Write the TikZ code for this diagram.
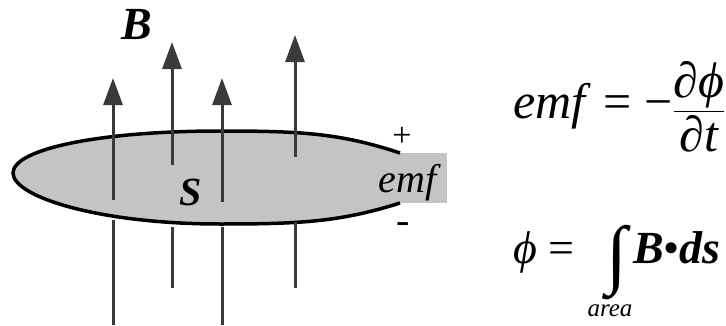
\documentclass[tikz,border=0pt]{standalone}
\usepackage{amsmath}
\usepackage{fontspec}
\setmainfont{Liberation Serif}
\usepackage{tikz}
\usetikzlibrary{arrows.meta}

\definecolor{loopgray}{RGB}{196,196,196}
\definecolor{fieldgray}{RGB}{58,58,58}

\begin{document}
\begin{tikzpicture}[
  x=1pt, y=1pt,
  field/.style={draw=fieldgray, line width=3pt},
  fieldarrow/.style={field, -{Triangle[width=19pt, length=27pt]}},
  txt/.style={font=\fontsize{#1}{#1}\selectfont, inner sep=0pt},
  boldlbl/.style={font=\fontsize{#1}{#1}\selectfont\bfseries\itshape, inner sep=0pt}
]
  \useasboundingbox (0,0) rectangle (726,325);

  % the loop and its terminals
  \fill[loopgray] (398,122) rectangle (447,172);
  \fill[loopgray] (400,172) .. controls (340,192) and (300,194) .. (220,194)
    .. controls (100,194) and (13,176) .. (13,152)
    .. controls (13,128) and (100,101) .. (220,101)
    .. controls (300,101) and (340,103) .. (400,122) -- cycle;
  \draw[line width=3.5pt] (400,172) .. controls (340,192) and (300,194) .. (220,194)
    .. controls (100,194) and (13,176) .. (13,152)
    .. controls (13,128) and (100,101) .. (220,101)
    .. controls (300,101) and (340,103) .. (400,122);

  % field lines below the surface
  \draw[field] (113,0) -- (113,105);
  \draw[field] (172,37) -- (172,98);
  \draw[field] (222,0) -- (222,98);
  \draw[field] (295,37) -- (295,103);
  % field lines above the surface
  \draw[fieldarrow] (113,125) -- (113,247);
  \draw[fieldarrow] (172,160) -- (172,283);
  \draw[fieldarrow] (222,123) -- (222,247);
  \draw[fieldarrow] (295,168) -- (295,290);

  \node[boldlbl=46] (blabel) at (137,300) {B};
  \node[boldlbl=40] (slabel) at (191,133) {S};
  \node[txt=40] (emfout) at (410,142) {\textit{emf}};
  \node[txt=34] (plus) at (402,188) {+};
  \node[txt=40] (minus) at (403,97) {-};

  % equations
  \node[txt=50, anchor=base west] (emfeq) at (513,207)
    {\textit{emf} = −$\dfrac{\text{\itshape ∂ϕ}}{\text{\itshape ∂t}}$};
  \node[txt=46, anchor=base west] (phieq) at (513,62) {\textit{ϕ} =};
  \node[txt=76] (intsym) at (619,62) {\textit{∫}};
  \node[txt=25] (area) at (610,14) {\textit{area}};
  \node[txt=46, anchor=base west] (bds) at (633,62)
    {\textbf{\textit{B}}•\textbf{\textit{ds}}};
\end{tikzpicture}
\end{document}
